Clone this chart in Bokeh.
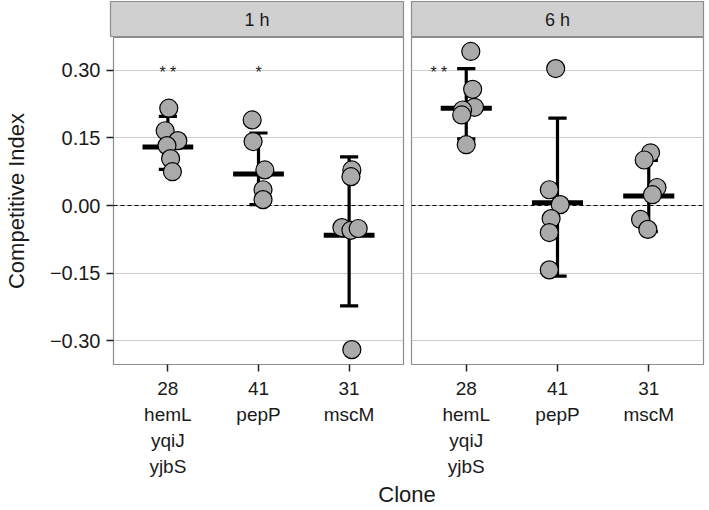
from bokeh.plotting import figure
from bokeh.models import (FactorRange, Range1d, Span, Label, FixedTicker,
                          ColumnDataSource, Grid)
from bokeh.layouts import column, row
from bokeh.embed import file_html
from bokeh.resources import INLINE
from bokeh.core.properties import value

# ---------------- data ----------------
panels = ["1 h", "6 h"]
clones = ["28", "41", "31"]
genes = ["hemL\nyqiJ\nyjbS", "pepP", "mscM"]
tick_labels = [c + "\n" + g for c, g in zip(clones, genes)]

y_ticks = [-0.30, -0.15, 0.0, 0.15, 0.30]
y_tick_labels = ["\u22120.30", "\u22120.15", "0.00", "0.15", "0.30"]

# individual competitive indices (value, jitter offset in category units)
ci_1h_28 = [0.216, 0.166, 0.144, 0.133, 0.104, 0.075]
jit_1h_28 = [0.01, -0.03, 0.11, -0.01, 0.03, 0.05]
ci_1h_41 = [0.190, 0.142, 0.079, 0.035, 0.013]
jit_1h_41 = [-0.07, -0.06, 0.07, 0.05, 0.05]
ci_1h_31 = [0.079, 0.064, -0.049, -0.055, -0.051, -0.320]
jit_1h_31 = [0.03, 0.02, -0.08, 0.02, 0.10, 0.03]

ci_6h_28 = [0.342, 0.258, 0.218, 0.212, 0.201, 0.135]
jit_6h_28 = [0.05, 0.07, 0.09, -0.04, -0.05, 0.00]
ci_6h_41 = [0.304, 0.035, 0.002, -0.029, -0.060, -0.143]
jit_6h_41 = [-0.02, -0.09, 0.03, -0.07, -0.09, -0.09]
ci_6h_31 = [0.117, 0.101, 0.040, 0.024, -0.031, -0.053]
jit_6h_31 = [0.02, -0.05, 0.09, 0.04, -0.09, -0.01]

# summary: centre bar and error-bar limits per clone
mean_1h = [0.130, 0.070, -0.066]
lo_1h = [0.080, 0.002, -0.223]
hi_1h = [0.198, 0.161, 0.108]
mean_6h = [0.216, 0.006, 0.021]
lo_6h = [0.148, -0.157, -0.058]
hi_6h = [0.304, 0.194, 0.100]

# significance marks
stars_1h = ["* *", "*"]
stars_1h_clone = ["28", "41"]
stars_1h_offset = [0.0, 0.0]
stars_6h = ["* *"]
stars_6h_clone = ["28"]
stars_6h_offset = [-0.30]
star_y = 0.30

# ---------------- style ----------------
FONT = "Liberation Sans"
TXT = "#1a1a1a"
BORDER = "#8c8c8c"
GRID = "#cccccc"
STRIP = "#d0d0d0"
PT_FILL = "#aaaaaa"

L1, R1, L2, R2 = 110, 2, 6, 2
W1 = L1 + 293 + R1
W2 = L2 + 292 + R2
STRIP_H = 37
MAIN_H = 443
CLONE_H = 28

y_range = Range1d(-0.353, 0.373)


def factor_of(clone):
    return tick_labels[clones.index(clone)]


def make_panel(left_axis, ci_groups, jit_groups, means, los, his,
               stars, star_clones, star_offsets):
    x_range = FactorRange(factors=tick_labels, range_padding=0.2 / 3,
                          range_padding_units="percent")
    p = figure(width=W1 if left_axis else W2, height=MAIN_H,
               x_range=x_range, y_range=y_range,
               toolbar_location=None, output_backend="svg",
               y_axis_location="left" if left_axis else None,
               min_border_left=L1 if left_axis else L2,
               min_border_right=R1 if left_axis else R2,
               min_border_top=0, min_border_bottom=0)
    p.background_fill_color = "white"
    p.border_fill_color = "white"
    p.outline_line_color = BORDER
    p.outline_line_width = 1.2

    # grid
    for g in list(p.grid):
        g.visible = False
    p.add_layout(Grid(dimension=1, ticker=FixedTicker(ticks=y_ticks),
                      grid_line_color=GRID, grid_line_width=1))
    p.add_layout(Span(location=0, dimension="width", line_color="black",
                      line_width=1, line_dash="4 3", level="underlay"))

    # x axis
    ax = p.xaxis[0]
    ax.axis_line_color = None
    ax.major_tick_line_color = "#222222"
    ax.major_tick_line_width = 1.5
    ax.major_tick_out = 7
    ax.major_tick_in = 0
    ax.minor_tick_line_color = None
    ax.major_label_text_font = FONT
    ax.major_label_text_font_size = "19px"
    ax.major_label_text_color = TXT
    ax.major_label_text_line_height = 1.25
    ax.major_label_standoff = 6

    if left_axis:
        ya = p.yaxis[0]
        ya.ticker = FixedTicker(ticks=y_ticks)
        ya.major_label_overrides = dict(zip(y_ticks, y_tick_labels))
        ya.axis_line_color = None
        ya.major_tick_line_color = "#222222"
        ya.major_tick_line_width = 1.5
        ya.major_tick_out = 7
        ya.major_tick_in = 0
        ya.minor_tick_line_color = None
        ya.major_label_text_font = FONT
        ya.major_label_text_font_size = "20px"
        ya.major_label_text_color = TXT
        ya.major_label_standoff = 6
        ya.axis_label = "Competitive Index"
        ya.axis_label_text_font = FONT
        ya.axis_label_text_font_size = "22px"
        ya.axis_label_text_font_style = "normal"
        ya.axis_label_text_color = TXT
        ya.axis_label_standoff = 18

    # error bars
    fac = tick_labels
    eb = ColumnDataSource(dict(x=fac, lo=los, hi=his,
                               cl=[(f, -0.1) for f in fac],
                               cr=[(f, 0.1) for f in fac],
                               ml=[(f, -0.28) for f in fac],
                               mr=[(f, 0.28) for f in fac],
                               m=means))
    p.segment(x0="x", x1="x", y0="lo", y1="hi", source=eb,
              line_color="black", line_width=3.2)
    p.segment(x0="cl", x1="cr", y0="lo", y1="lo", source=eb,
              line_color="black", line_width=3.2)
    p.segment(x0="cl", x1="cr", y0="hi", y1="hi", source=eb,
              line_color="black", line_width=3.2)
    p.segment(x0="ml", x1="mr", y0="m", y1="m", source=eb,
              line_color="black", line_width=5)

    # points
    xs, ys = [], []
    for f, vals, jits in zip(fac, ci_groups, jit_groups):
        for v, j in zip(vals, jits):
            xs.append((f, j))
            ys.append(v)
    p.scatter(x=xs, y=ys, size=18, fill_color=PT_FILL, line_color="black",
              line_width=1.2)

    # stars
    sx = [(factor_of(c), o) for c, o in zip(star_clones, star_offsets)]
    p.text(x=sx, y=[star_y] * len(sx), text=stars,
           text_font=value(FONT), text_font_size="16px",
           text_color=TXT, text_align="center", text_baseline="middle",
           y_offset=2)
    return p


def make_strip(label, left):
    s = figure(width=W1 if left else W2, height=STRIP_H,
               x_range=Range1d(0, 1), y_range=Range1d(0, 1),
               toolbar_location=None, output_backend="svg",
               x_axis_location=None, y_axis_location=None,
               min_border_left=L1 if left else L2,
               min_border_right=R1 if left else R2,
               min_border_top=1, min_border_bottom=0)
    for g in list(s.grid):
        g.visible = False
    s.background_fill_color = STRIP
    s.border_fill_color = "white"
    s.outline_line_color = BORDER
    s.outline_line_width = 1.2
    s.add_layout(Label(x=0.5, y=0.5, text=label, text_align="center",
                       text_baseline="middle", text_font=FONT,
                       text_font_size="18px", text_color=TXT))
    return s


p1 = make_panel(True, [ci_1h_28, ci_1h_41, ci_1h_31],
                [jit_1h_28, jit_1h_41, jit_1h_31],
                mean_1h, lo_1h, hi_1h, stars_1h, stars_1h_clone, stars_1h_offset)
p2 = make_panel(False, [ci_6h_28, ci_6h_41, ci_6h_31],
                [jit_6h_28, jit_6h_41, jit_6h_31],
                mean_6h, lo_6h, hi_6h, stars_6h, stars_6h_clone, stars_6h_offset)
s1 = make_strip(panels[0], True)
s2 = make_strip(panels[1], False)

cf = figure(width=W1 + W2, height=CLONE_H, x_range=Range1d(0, 1),
            y_range=Range1d(0, 1), toolbar_location=None,
            output_backend="svg", x_axis_location=None, y_axis_location=None,
            min_border_left=L1, min_border_right=R2,
            min_border_top=0, min_border_bottom=0)
for g in list(cf.grid):
    g.visible = False
cf.outline_line_color = None
cf.add_layout(Label(x=0.5, y=0.5, text="Clone", text_align="center",
                    text_baseline="middle", text_font=FONT,
                    text_font_size="22px", text_color=TXT))

layout = column(row(s1, s2), row(p1, p2), cf)
open("out.html", "w").write(file_html(layout, INLINE))
